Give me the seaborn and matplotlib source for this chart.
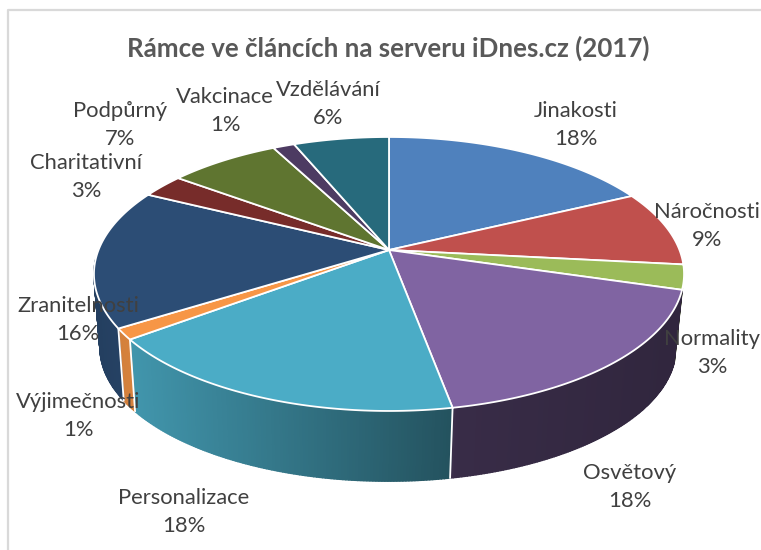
import numpy as np
import matplotlib.pyplot as plt
import seaborn as sns

sns.set_theme(style="white")
plt.rcParams['font.family'] = ['Lato', 'DejaVu Sans']

categories = ['Jinakosti', 'Náročnosti', 'Normality', 'Osvětový', 'Personalizace',
              'Výjimečnosti', 'Zranitelnosti', 'Charitativní', 'Podpůrný', 'Vakcinace',
              'Vzdělávání']
# slice sizes, the labels show them rounded
shares = [17.8, 8.9, 2.9, 17.5, 17.6, 1.3, 16.4, 2.8, 7.2, 1.4, 6.2]
pct_labels = [18, 9, 3, 18, 18, 1, 16, 3, 7, 1, 6]
colors = ['#4F81BD', '#C0504D', '#9BBB59', '#8064A2', '#4BACC6', '#F79646',
          '#2C4D75', '#772C2A', '#5F7530', '#4D3B62', '#276A7C']
title = 'Rámce ve článcích na serveru iDnes.cz (2017)'

label_pos = [(576, 125), (707, 226), (712, 353), (630, 487), (184, 512), (78, 416),
             (78, 320), (86, 177), (120, 125), (225, 111), (328, 104)]

palette = sns.color_palette(colors)
edges = np.cumsum([0] + shares) / sum(shares) * 2 * np.pi


def rim(theta, cx, cy, a, s, k=0.175):
    # circle seen in perspective, theta runs clockwise from the top
    d = 1 + k * np.cos(theta)
    return cx + a * np.sin(theta) / d, cy - s * np.cos(theta) / d


def top(theta):
    return rim(theta, 389, 250, 290.5, 132.8)


def bottom(theta):
    return rim(theta, 388, 324, 283.6, 129.7)


fig, ax = plt.subplots(figsize=(7.61, 5.5), dpi=100)
ax.set_position([0, 0, 1, 1])
ax.set_xlim(0, 761)
ax.set_ylim(550, 0)
ax.axis('off')

# chart frame, only left and top are in the crop
ax.plot([7.5, 7.5, 761], [550, 10, 10], color='#D9D9D9', lw=1.6, zorder=0)

# side wall, small quads so the shade can run along it
wall_from, wall_to = np.radians(106), np.radians(266)
for i, c in enumerate(palette):
    t0 = max(edges[i], wall_from)
    t1 = min(edges[i + 1], wall_to)
    if t1 <= t0:
        continue
    steps = np.linspace(t0, t1, int(np.degrees(t1 - t0)) * 2 + 2)
    for a, b in zip(steps[:-1], steps[1:]):
        xt, yt = top(np.array([a, b]))
        xb, yb = bottom(np.array([b, a]))
        shade = np.interp((xt[0] + xt[1]) / 2, [95, 130, 450, 458, 680], [0.82, 0.87, 0.48, 0.44, 0.38])
        col = tuple(np.array(c) * shade)
        ax.fill(np.r_[xt, xb], np.r_[yt, yb], facecolor=col, edgecolor=col, lw=1.0, zorder=1)

for e in edges[4:7]:
    xt, yt = top(e)
    xb, yb = bottom(e)
    ax.plot([xt, xb], [yt, yb], color='white', lw=1.3, zorder=2)

# top face
for i, c in enumerate(palette):
    th = np.linspace(edges[i], edges[i + 1], 80)
    x, y = top(th)
    ax.fill(np.r_[389, x], np.r_[250, y], facecolor=c, edgecolor='white', lw=1.3, zorder=3)

for name, pct, (x, y) in zip(categories, pct_labels, label_pos):
    ax.text(x, y, f'{name}\n{pct}%', ha='center', va='center', fontsize=15.8,
            color='#404040', linespacing=1.5, zorder=5)

ax.text(388, 48, title, ha='center', va='center', fontsize=18.6, fontweight='bold',
        color='#595959', zorder=5)

fig.savefig('out.png', dpi=100)
